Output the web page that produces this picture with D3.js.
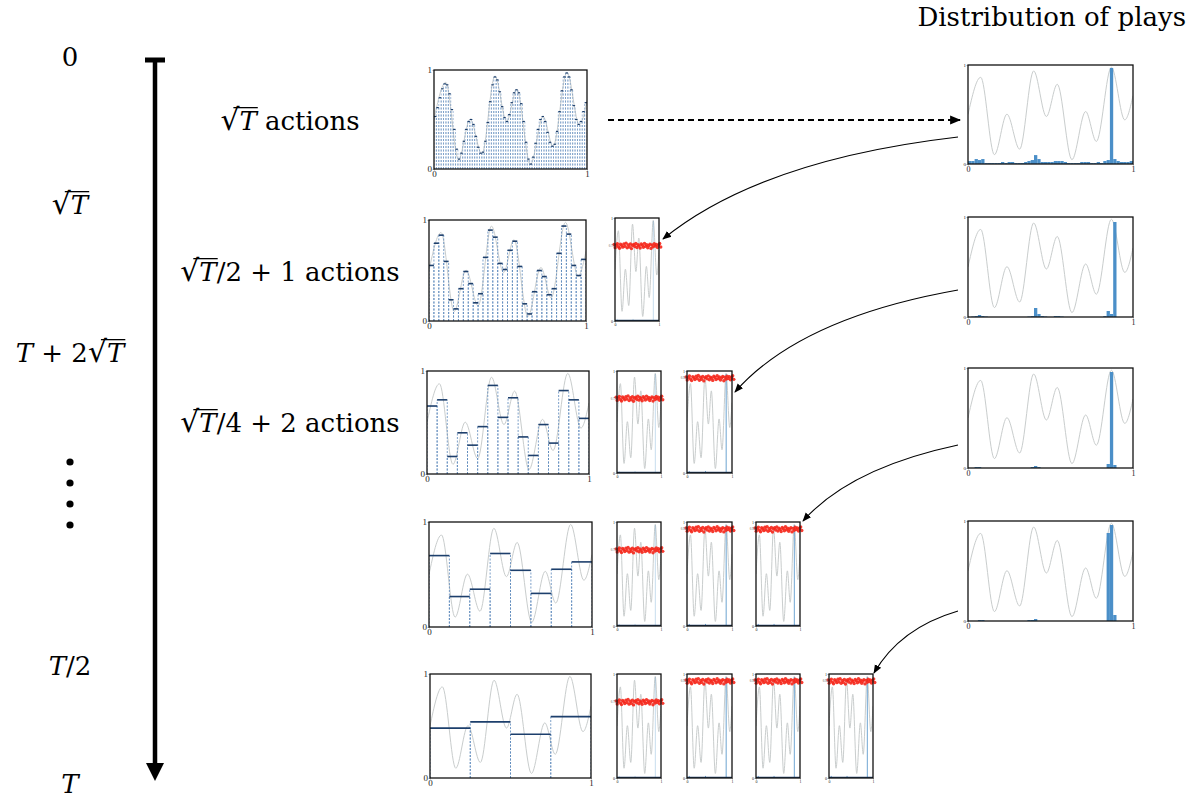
<!DOCTYPE html>
<html>
<head>
<meta charset="utf-8">
<script src="https://cdn.jsdelivr.net/npm/d3@7"></script>
<style>
  body { margin: 0; background: #fff; }
  text { font-family: "Liberation Serif", "DejaVu Serif", serif; }
  text.big { font-family: "DejaVu Serif", serif; }
</style>
</head>
<body>
<svg id="fig" width="1199" height="801"></svg>
<script>
// reward curve at its peaks and troughs
var curveX = [0, 0.077, 0.16, 0.236, 0.313, 0.398, 0.475, 0.541, 0.63, 0.713, 0.778, 0.869, 0.95, 1];
var curveY = [0.50, 0.876, 0.094, 0.503, 0.15, 0.94, 0.48, 0.805, 0.044, 0.53, 0.228, 0.977, 0.446, 0.69];

// piecewise constant estimates, one value per action
var steps64 = [0.53, 0.62, 0.72, 0.81, 0.86, 0.85, 0.76, 0.60, 0.40, 0.20, 0.10, 0.16, 0.28, 0.40, 0.48, 0.50,
    0.45, 0.33, 0.22, 0.16, 0.17, 0.28, 0.47, 0.68, 0.85, 0.93, 0.90, 0.78, 0.63, 0.52, 0.48, 0.55,
    0.67, 0.77, 0.80, 0.77, 0.66, 0.48, 0.27, 0.10, 0.05, 0.12, 0.26, 0.40, 0.50, 0.53, 0.48, 0.37,
    0.27, 0.23, 0.25, 0.38, 0.58, 0.79, 0.93, 0.97, 0.93, 0.80, 0.64, 0.50, 0.45, 0.48, 0.58, 0.67];
var steps32 = [0.55, 0.77, 0.85, 0.59, 0.21, 0.12, 0.32, 0.49, 0.37, 0.18, 0.27, 0.63, 0.90, 0.83, 0.57, 0.51,
    0.70, 0.79, 0.54, 0.17, 0.07, 0.29, 0.50, 0.44, 0.26, 0.32, 0.67, 0.94, 0.86, 0.55, 0.45, 0.61];
var steps16 = [0.66, 0.72, 0.17, 0.40, 0.28, 0.46, 0.86, 0.55, 0.74, 0.36, 0.18, 0.48, 0.30, 0.81, 0.72, 0.54];
var steps8 = [0.68, 0.29, 0.36, 0.70, 0.54, 0.32, 0.55, 0.62];
var steps4 = [0.48, 0.54, 0.42, 0.59];

// distribution of plays, 50 bins
var hist1 = [0.03, 0.03, 0.05, 0.04, 0.05, 0.01, 0.01, 0.01, 0.01, 0.01,
    0.02, 0.01, 0.02, 0.02, 0.01, 0.01, 0.01, 0.02, 0.03, 0.04,
    0.09, 0.05, 0.02, 0.02, 0.02, 0.02, 0.03, 0.03, 0.03, 0.02,
    0.01, 0.01, 0.01, 0.01, 0.02, 0.02, 0.02, 0.01, 0.01, 0.02,
    0.01, 0.03, 0.04, 0.97, 0.05, 0.03, 0.02, 0.02, 0.02, 0.03];
var hist2 = [0, 0.005, 0.01, 0.02, 0.01, 0.005, 0, 0, 0, 0,
    0, 0, 0, 0, 0, 0, 0, 0, 0.005, 0.01,
    0.09, 0.03, 0.01, 0.005, 0, 0, 0.01, 0.01, 0.005, 0,
    0, 0, 0, 0, 0, 0, 0, 0, 0, 0,
    0, 0.01, 0.06, 0.03, 0.95, 0, 0, 0, 0, 0];
var hist3 = [0, 0, 0.01, 0.01, 0, 0, 0, 0, 0, 0,
    0, 0, 0, 0, 0, 0, 0, 0, 0, 0.01,
    0.02, 0.01, 0, 0, 0, 0, 0, 0, 0, 0,
    0, 0, 0, 0, 0, 0, 0, 0, 0, 0,
    0, 0, 0.04, 0.96, 0.03, 0, 0, 0, 0, 0];
var hist4 = [0, 0, 0, 0.01, 0.01, 0, 0, 0, 0, 0,
    0, 0, 0, 0, 0, 0, 0, 0, 0.01, 0.01,
    0.02, 0, 0, 0, 0, 0, 0, 0, 0, 0,
    0, 0, 0, 0, 0, 0, 0, 0, 0, 0,
    0, 0, 0.88, 0.96, 0.06, 0, 0, 0, 0, 0];
var narrowHist = [0, 0, 0.02, 0, 0, 0, 0, 0, 0, 0,
    0, 0, 0, 0, 0, 0, 0, 0, 0, 0,
    0.02, 0, 0, 0, 0, 0, 0, 0, 0, 0,
    0, 0, 0, 0, 0, 0, 0, 0, 0, 0,
    0, 0, 0, 0.97, 0, 0, 0, 0, 0, 0];

// level of the red rewards in each narrow column, and their spread
var narrowLevels = [0.73, 0.93, 0.93, 0.93];
var narrowLevelLabels = ["0.73", "0.93", "0.93", "0.93"];
var redJitter = [0.012, -0.018, 0.005, 0.021, -0.009, -0.024, 0.015, 0.002, -0.013, 0.019, -0.004,
    0.026, -0.02, 0.008, -0.011, 0.017, -0.027, 0.003, 0.014, -0.007, 0.022, -0.016,
    0.01, -0.001, -0.022, 0.018, 0.006, -0.014, 0.024, -0.005, 0.011, -0.019, 0.001,
    0.016, -0.025, 0.009, -0.01, 0.02, -0.003, 0.013, -0.017, 0.007, 0.023, -0.012];

var tickLabels = ["0", "1"];

// labels: parts are [text, italic, overline]
var timeLabels = [
    [["0"]],
    [["√"], ["T", 1, 1]],
    [["T", 1], [" + 2"], ["√"], ["T", 1, 1]],
    [["T", 1], ["/2"]],
    [["T", 1]]
];
var actionLabels = [
    [["√"], ["T", 1, 1], [" actions"]],
    [["√"], ["T", 1, 1], ["/2 + 1 actions"]],
    [["√"], ["T", 1, 1], ["/4 + 2 actions"]]
];
var title = "Distribution of plays";

var svg = d3.select("#fig");
var curvePts = curveX.map(function (x, i) { return [x, curveY[i]]; });

var blue = "#4b8fc8";
var navy = "#1d3f6c";
var grey = "#c9cdcd";

// one set of axes on the page
function frame(box, fs, yfs) {
    var x = d3.scaleLinear().domain([0, 1]).range([box[0], box[0] + box[2]]);
    var y = d3.scaleLinear().domain([0, 1]).range([box[1] + box[3], box[1]]);
    var g = svg.append("g");
    g.append("defs").append("clipPath").attr("id", "c" + box.join("_"))
        .append("rect").attr("x", box[0]).attr("y", box[1]).attr("width", box[2]).attr("height", box[3]);
    var inner = g.append("g").attr("clip-path", "url(#c" + box.join("_") + ")");
    return { x: x, y: y, g: g, inner: inner, box: box, fs: fs, yfs: yfs };
}

function finish(p) {
    var ax = p.g.append("g")
        .attr("transform", "translate(0," + (p.box[1] + p.box[3]) + ")")
        .call(d3.axisBottom(p.x).tickValues([0, 1]).tickSize(1.5).tickFormat(function (d, i) { return tickLabels[i]; }));
    ax.select(".domain").remove();
    ax.selectAll("text").style("font-size", p.fs + "px").attr("dy", "0.7em").attr("y", 2).attr("fill", "#222");
    ax.selectAll("line").attr("stroke", "#555").attr("stroke-width", 0.5);
    var ay = p.g.append("g")
        .attr("transform", "translate(" + p.box[0] + ",0)")
        .call(d3.axisLeft(p.y).tickValues([0, 1]).tickSize(1.5).tickFormat(function (d, i) { return tickLabels[i]; }));
    ay.select(".domain").remove();
    ay.selectAll("text").style("font-size", p.yfs + "px").attr("x", -2).attr("fill", "#222");
    ay.selectAll("line").attr("stroke", "#555").attr("stroke-width", 0.5);
    p.g.append("rect")
        .attr("x", p.box[0]).attr("y", p.box[1]).attr("width", p.box[2]).attr("height", p.box[3])
        .attr("fill", "none").attr("stroke", "#111").attr("stroke-width", 1.3);
}

function drawCurve(p) {
    p.inner.append("path")
        .datum(curvePts)
        .attr("d", d3.line().x(function (d) { return p.x(d[0]); }).y(function (d) { return p.y(d[1]); }).curve(d3.curveMonotoneX))
        .attr("fill", "none").attr("stroke", grey).attr("stroke-width", 1);
}

function stepPanel(box, steps) {
    var p = frame(box, 9, 9);
    var n = steps.length;
    drawCurve(p);
    var edges = [];
    steps.forEach(function (v, i) {
        edges.push([i / n, v]);
        edges.push([(i + 1) / n, v]);
    });
    p.inner.selectAll(".edge").data(edges).enter().append("line")
        .attr("x1", function (d) { return p.x(d[0]); }).attr("x2", function (d) { return p.x(d[0]); })
        .attr("y1", p.y(0)).attr("y2", function (d) { return p.y(d[1]); })
        .attr("stroke", "#5a88bb").attr("stroke-width", 0.8).attr("stroke-dasharray", "2,1.5")
        .attr("opacity", n > 40 ? 0.7 : 1);
    p.inner.selectAll(".step").data(steps).enter().append("line")
        .attr("x1", function (d, i) { return p.x(i / n); }).attr("x2", function (d, i) { return p.x((i + 1) / n); })
        .attr("y1", function (d) { return p.y(d); }).attr("y2", function (d) { return p.y(d); })
        .attr("stroke", navy).attr("stroke-width", n > 40 ? 1.2 : 1.6);
    finish(p);
}

function histPanel(box, hist) {
    var p = frame(box, 8, 5);
    var n = hist.length;
    drawCurve(p);
    p.inner.selectAll(".bar").data(hist).enter().append("rect")
        .attr("x", function (d, i) { return p.x(i / n); })
        .attr("width", p.x(1 / n) - p.x(0))
        .attr("y", function (d) { return p.y(d); })
        .attr("height", function (d) { return p.y(0) - p.y(d); })
        .attr("fill", blue);
    finish(p);
}

function narrowPanel(box, col) {
    var p = frame(box, 4, 4);
    var n = narrowHist.length;
    drawCurve(p);
    p.inner.selectAll(".bar").data(narrowHist).enter().append("rect")
        .attr("x", function (d, i) { return p.x(i / n); })
        .attr("width", p.x(1 / n) - p.x(0))
        .attr("y", function (d) { return p.y(d); })
        .attr("height", function (d) { return p.y(0) - p.y(d); })
        .attr("fill", blue).attr("opacity", col === 0 ? 0.35 : 0.9);
    p.inner.append("rect")
        .attr("x", p.x(0)).attr("width", p.x(1) - p.x(0))
        .attr("y", p.y(0.012)).attr("height", p.y(0) - p.y(0.012))
        .attr("fill", navy);
    var m = redJitter.length;
    var xr = d3.scaleLinear().domain([0, m - 1]).range([-0.02, 1.04]);
    p.g.selectAll(".red").data(redJitter).enter().append("circle")
        .attr("cx", function (d, i) { return p.x(xr(i)); })
        .attr("cy", function (d) { return p.y(narrowLevels[col] + d); })
        .attr("r", 1.7).attr("fill", "#f5261a").attr("opacity", 0.9);
    finish(p);
    p.g.append("text")
        .attr("x", p.box[0] - 1).attr("y", p.y(narrowLevels[col]) + 1)
        .attr("text-anchor", "end").style("font-size", "3px").attr("fill", "#555")
        .text(narrowLevelLabels[col]);
}

// layout of the rows
var rows = [
    { left: [434, 70, 153, 99], steps: steps64, right: [968, 65, 165, 99], hist: hist1, narrow: [] },
    { left: [429, 220, 157, 101], steps: steps32, right: [968, 217, 165, 100], hist: hist2, narrow: [[615, 218, 44, 103]] },
    { left: [427, 371, 162, 103], steps: steps16, right: [968, 368, 165, 100], hist: hist3, narrow: [[617, 371, 44, 102], [687, 371, 45, 102]] },
    { left: [429, 522, 163, 105], steps: steps8, right: [968, 521, 165, 100], hist: hist4, narrow: [[617, 522, 44, 104], [687, 522, 45, 104], [756, 522, 44, 104]] },
    { left: [430, 674, 161, 104], steps: steps4, right: null, hist: null, narrow: [[617, 674, 44, 104], [687, 674, 45, 104], [756, 674, 44, 104], [829, 674, 44, 104]] }
];

rows.forEach(function (r) {
    stepPanel(r.left, r.steps);
    if (r.right) histPanel(r.right, r.hist);
    r.narrow.forEach(function (b, j) { narrowPanel(b, j); });
});

// math-ish labels
function mathText(parts, x, y, size, anchor) {
    var t = svg.append("text").attr("class", "big").attr("x", x).attr("y", y)
        .attr("text-anchor", anchor).style("font-size", size + "px").attr("fill", "#000");
    parts.forEach(function (pt) {
        var s = t.append("tspan").text(pt[0]).style("font-style", pt[1] ? "italic" : "normal");
        if (pt[0] === "√") s.style("font-size", (size * 1.15) + "px");
    });
    var node = t.node();
    var idx = 0;
    parts.forEach(function (pt) {
        if (pt[2]) {
            var s = node.getStartPositionOfChar(idx - 1), e = node.getEndPositionOfChar(idx + pt[0].length - 1);
            svg.append("line")
                .attr("x1", s.x + size * 0.5).attr("x2", e.x + 1)
                .attr("y1", y - size * 0.86).attr("y2", y - size * 0.86)
                .attr("stroke", "#000").attr("stroke-width", size * 0.05);
        }
        idx += pt[0].length;
    });
    return t;
}

var timeY = [66, 214, 362, 675, 793];
timeLabels.forEach(function (l, i) { mathText(l, 70, timeY[i], 26, "middle"); });
var actY = [130, 281, 432];
actionLabels.forEach(function (l, i) { mathText(l, 290, actY[i], 26, "middle"); });

svg.append("text").attr("class", "big").attr("x", 1186).attr("y", 26).attr("text-anchor", "end")
    .style("font-size", "26px").text(title);

// timeline
svg.append("line").attr("x1", 155).attr("x2", 155).attr("y1", 58).attr("y2", 766)
    .attr("stroke", "#000").attr("stroke-width", 4.5);
svg.append("line").attr("x1", 145).attr("x2", 165).attr("y1", 60).attr("y2", 60)
    .attr("stroke", "#000").attr("stroke-width", 5);
svg.append("path").attr("d", "M146,763 L164,763 L155,781 Z").attr("fill", "#000");
svg.selectAll(".dot").data([462, 483, 504, 525]).enter().append("circle")
    .attr("cx", 70).attr("cy", function (d) { return d; }).attr("r", 3.6).attr("fill", "#000");

// arrows
var defs = svg.append("defs");
defs.append("marker").attr("id", "head").attr("viewBox", "0 0 10 10")
    .attr("refX", 9).attr("refY", 5).attr("markerWidth", 9).attr("markerHeight", 9)
    .attr("markerUnits", "userSpaceOnUse").attr("orient", "auto")
    .append("path").attr("d", "M0,1 L10,5 L0,9 Z").attr("fill", "#000");
defs.append("marker").attr("id", "head2").attr("viewBox", "0 0 10 10")
    .attr("refX", 9).attr("refY", 5).attr("markerWidth", 11).attr("markerHeight", 11)
    .attr("markerUnits", "userSpaceOnUse").attr("orient", "auto")
    .append("path").attr("d", "M0,1 L10,5 L0,9 Z").attr("fill", "#000");

svg.append("line").attr("x1", 608).attr("x2", 960).attr("y1", 120).attr("y2", 120)
    .attr("stroke", "#000").attr("stroke-width", 2).attr("stroke-dasharray", "6,4")
    .attr("marker-end", "url(#head2)");

var bends = [
    "M958,137 Q760,160 663,239",
    "M958,290 Q800,318 735,392",
    "M958,445 Q850,468 803,521",
    "M958,611 Q900,628 874,673"
];
bends.forEach(function (d) {
    svg.append("path").attr("d", d).attr("fill", "none")
        .attr("stroke", "#000").attr("stroke-width", 1.1).attr("marker-end", "url(#head)");
});
</script>
</body>
</html>
